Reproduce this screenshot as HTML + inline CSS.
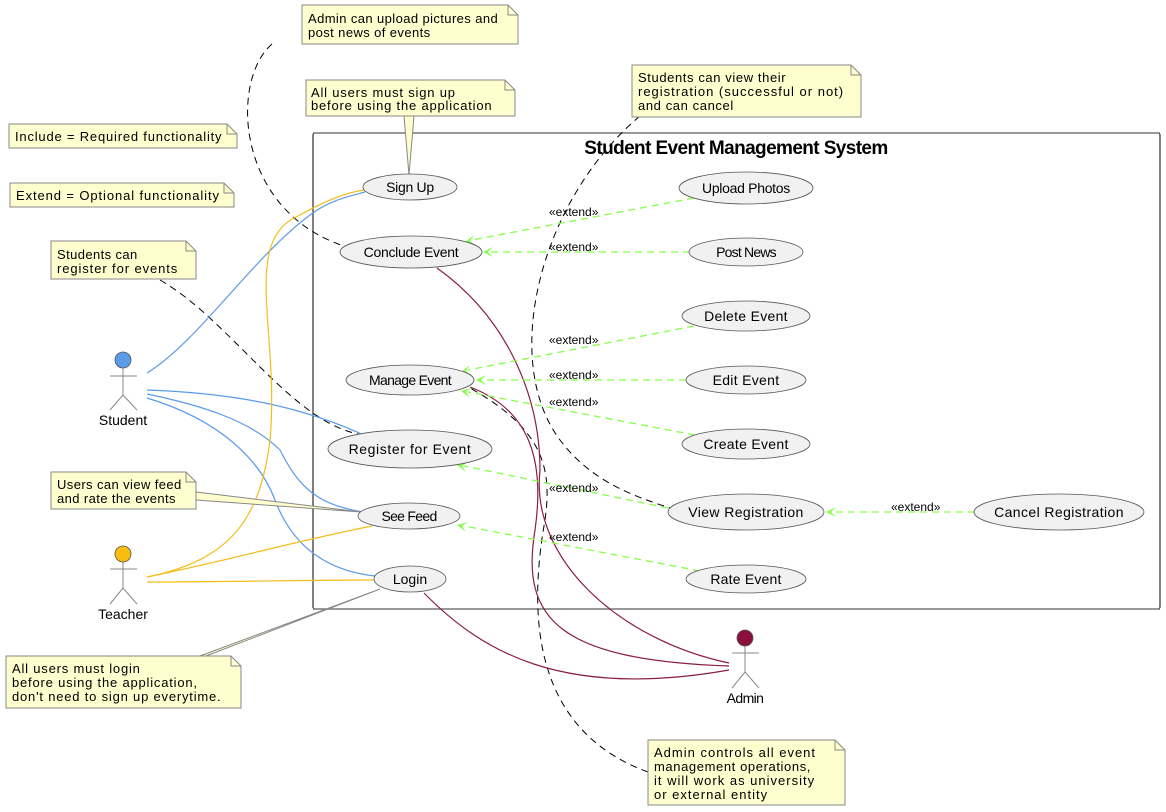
<!DOCTYPE html>
<html><head><meta charset="utf-8"><style>
body{margin:0;background:#fff}
svg{display:block}
text{font-family:"Liberation Sans",sans-serif}
</style></head><body>
<svg width="1166" height="812" viewBox="0 0 1166 812" xmlns="http://www.w3.org/2000/svg">
<!-- boundary -->
<rect x="313" y="133" width="847" height="476" rx="2" fill="none" stroke="#000" stroke-width="1"/>
<line x1="313" y1="609" x2="1160" y2="609" stroke="#777" stroke-width="1.5"/>
<line x1="313" y1="133" x2="1160" y2="133" stroke="#777" stroke-width="1.5"/>
<text x="736" y="154" font-size="19" font-weight="bold" text-anchor="middle" letter-spacing="-0.6">Student Event Management System</text>

<!-- note dashed connectors -->
<g fill="none" stroke="#000" stroke-dasharray="7,5" stroke-width="1">
<path d="M272,44 C230,80 235,210 344,246"/>
<path d="M160,280 C230,320 290,420 358,434"/>
<path d="M640,116 C540,200 500,360 560,440 C590,480 630,495 670,508"/>
<path d="M648,772 C560,740 520,660 545,520 C552,470 545,430 470,388"/>
</g>

<!-- student lines -->
<g fill="none" stroke="#5b9bea" stroke-width="1.2">
<path d="M147,373 C200,340 250,260 310,215 C330,200 350,196 365,192"/>
<path d="M147,390 C230,393 300,405 368,437"/>
<path d="M147,394 C200,405 250,420 280,450 C300,490 320,505 363,512"/>
<path d="M147,398 C220,420 260,460 275,500 C290,540 320,570 375,576"/>
</g>
<!-- teacher lines -->
<g fill="none" stroke="#f4bd1a" stroke-width="1.2">
<path d="M147,577 C230,560 260,520 270,440 C280,330 240,240 300,215 C330,198 350,192 364,190"/>
<path d="M147,577 C230,560 300,540 372,526"/>
<path d="M147,582 C230,582 300,580 374,580"/>
</g>
<!-- admin lines -->
<g fill="none" stroke="#8b1e43" stroke-width="1.2">
<path d="M437,268 C510,320 540,400 540,470 C530,560 620,640 729,663"/>
<path d="M470,387 C530,410 545,460 535,530 C520,620 560,660 729,666"/>
<path d="M424,593 C480,650 560,700 729,670"/>
</g>

<!-- note pointers (solid) -->
<path d="M404,116 L409,175 L414,116" fill="#fefece" stroke="#888" stroke-width="1"/>
<path d="M196,492 L361,512 L196,500" fill="#fefece" stroke="#888" stroke-width="1"/>
<path d="M200,656 L380,589 L206,656" fill="#fefece" stroke="#888" stroke-width="1"/>

<!-- extend lines -->
<g fill="none" stroke="#84ff4a" stroke-width="1.3" stroke-dasharray="7,5">
<path d="M694,198 L472,240"/>
<path d="M690,252 L490,252"/>
<path d="M694,326 L468,370"/>
<path d="M686,380 L483,380"/>
<path d="M695,435 L468,392"/>
<path d="M668,508 L464,466"/>
<path d="M975,512 L833,512"/>
<path d="M700,571 L464,526"/>
</g>
<g fill="#84ff4a" stroke="none">
<path d="M465,242 L473.9,235.2 L469.9,241.1 L475.7,245 Z"/>
<path d="M483,252 L493,247 L488,252 L493,257 Z"/>
<path d="M461,372 L469.8,365.2 L465.9,371 L471.8,375 Z"/>
<path d="M476,380 L486,375 L481,380 L486,385 Z"/>
<path d="M461,391 L471.7,387.9 L465.9,391.9 L469.9,397.7 Z"/>
<path d="M457,465 L467.8,462.1 L461.9,466 L465.8,471.9 Z"/>
<path d="M826,512 L836,507 L831,512 L836,517 Z"/>
<path d="M457,525 L467.7,522 L461.9,525.9 L465.9,531.8 Z"/>
</g>
<g font-size="12" fill="#000">
<text x="549" y="216">«extend»</text>
<text x="549" y="251">«extend»</text>
<text x="549" y="344">«extend»</text>
<text x="549" y="379">«extend»</text>
<text x="549" y="406">«extend»</text>
<text x="549" y="492">«extend»</text>
<text x="891" y="511">«extend»</text>
<text x="549" y="541">«extend»</text>
</g>

<!-- use cases -->
<g fill="#f1f1f1" stroke="#555" stroke-width="0.8">
<ellipse cx="410" cy="187" rx="47" ry="13"/>
<ellipse cx="411" cy="252" rx="71" ry="16"/>
<ellipse cx="746" cy="188" rx="67" ry="16"/>
<ellipse cx="746" cy="252" rx="57" ry="14"/>
<ellipse cx="746" cy="316" rx="64" ry="15"/>
<ellipse cx="410" cy="380" rx="64" ry="15"/>
<ellipse cx="746" cy="380" rx="60" ry="14"/>
<ellipse cx="746" cy="444" rx="64" ry="15"/>
<ellipse cx="410" cy="449" rx="82" ry="19"/>
<ellipse cx="746" cy="512" rx="78" ry="18"/>
<ellipse cx="1059" cy="512" rx="85" ry="18"/>
<ellipse cx="409" cy="516" rx="51" ry="13"/>
<ellipse cx="746" cy="579" rx="60" ry="14"/>
<ellipse cx="410" cy="579" rx="36" ry="13"/>
</g>
<g font-size="14" text-anchor="middle" fill="#000">
<text x="410" y="192" letter-spacing="-0.3">Sign Up</text>
<text x="411" y="257" letter-spacing="-0.3">Conclude Event</text>
<text x="746" y="193" letter-spacing="-0.3">Upload Photos</text>
<text x="746" y="257" letter-spacing="-0.8">Post News</text>
<text x="746" y="321" letter-spacing="0.3">Delete Event</text>
<text x="410" y="385" letter-spacing="-0.7">Manage Event</text>
<text x="746" y="385" letter-spacing="0.3">Edit Event</text>
<text x="746" y="449" letter-spacing="0.3">Create Event</text>
<text x="410" y="454" letter-spacing="0.6">Register for Event</text>
<text x="746" y="517" letter-spacing="0.4">View Registration</text>
<text x="1059" y="517" letter-spacing="0.4">Cancel Registration</text>
<text x="409" y="521" letter-spacing="-0.7">See Feed</text>
<text x="746" y="584" letter-spacing="0.2">Rate Event</text>
<text x="410" y="584">Login</text>
</g>

<!-- actors -->
<g stroke="#888" stroke-width="1" fill="none">
<line x1="123" y1="368" x2="123" y2="395"/><line x1="110" y1="376" x2="137" y2="376"/>
<path d="M110,410 L123,395 L137,410"/>
<line x1="123" y1="561" x2="123" y2="588"/><line x1="110" y1="569" x2="137" y2="569"/>
<path d="M110,604 L123,588 L137,604"/>
<line x1="745" y1="645" x2="745" y2="672"/><line x1="732" y1="653" x2="759" y2="653"/>
<path d="M732,688 L745,672 L759,688"/>
</g>
<circle cx="123" cy="360" r="8" fill="#5b9bea" stroke="#555" stroke-width="0.8"/>
<circle cx="123" cy="554" r="8" fill="#f9bd12" stroke="#555" stroke-width="0.8"/>
<circle cx="745" cy="638" r="8" fill="#8b0f3b" stroke="#555" stroke-width="0.8"/>
<g font-size="14" text-anchor="middle">
<text x="123" y="425">Student</text>
<text x="123" y="619">Teacher</text>
<text x="745" y="703" letter-spacing="-0.6">Admin</text>
</g>

<!-- notes -->
<g fill="#fefece" stroke="#888" stroke-width="1">
<path d="M302,5 H508 L518,15 V44 H302 Z"/>
<path d="M306,80 H505 L515,90 V116 H306 Z"/>
<path d="M9,124 H227 L237,134 V148 H9 Z"/>
<path d="M10,183 H224 L234,193 V207 H10 Z"/>
<path d="M51,241 H186 L196,251 V279 H51 Z"/>
<path d="M632,65 H851 L861,75 V117 H632 Z"/>
<path d="M51,472 H186 L196,482 V509 H51 Z"/>
<path d="M6,656 H231 L241,666 V708 H6 Z"/>
<path d="M648,740 H835 L845,750 V805 H648 Z"/>
</g>
<g fill="none" stroke="#888" stroke-width="1">
<path d="M508,5 V15 H518"/><path d="M505,80 V90 H515"/><path d="M227,124 V134 H237"/>
<path d="M224,183 V193 H234"/><path d="M186,241 V251 H196"/><path d="M851,65 V75 H861"/>
<path d="M186,472 V482 H196"/><path d="M231,656 V666 H241"/><path d="M835,740 V750 H845"/>
</g>
<g font-size="13" fill="#000" letter-spacing="0.4">
<text x="308" y="23">Admin can upload pictures and</text>
<text x="308" y="37">post news of events</text>
<text x="311" y="97" letter-spacing="0.8">All users must sign up</text>
<text x="311" y="110" letter-spacing="0.8">before using the application</text>
<text x="15" y="141" letter-spacing="0.8">Include = Required functionality</text>
<text x="16" y="200" letter-spacing="0.9">Extend = Optional functionality</text>
<text x="57" y="259">Students can</text>
<text x="57" y="273" letter-spacing="0.9">register for events</text>
<text x="638" y="82" letter-spacing="0.6">Students can view their</text>
<text x="638" y="96" letter-spacing="1.0">registration (successful or not)</text>
<text x="638" y="110" letter-spacing="0.6">and can cancel</text>
<text x="57" y="489" letter-spacing="0.4">Users can view feed</text>
<text x="57" y="503" letter-spacing="0.4">and rate the events</text>
<text x="12" y="673" letter-spacing="0.8">All users must login</text>
<text x="12" y="687" letter-spacing="0.8">before using the application,</text>
<text x="12" y="701" letter-spacing="0.8">don't need to sign up everytime.</text>
<text x="654" y="757" letter-spacing="1.0">Admin controls all event</text>
<text x="654" y="771" letter-spacing="0.6">management operations,</text>
<text x="654" y="785" letter-spacing="1.0">it will work as university</text>
<text x="654" y="799" letter-spacing="1.0">or external entity</text>
</g>
</svg>
</body></html>
